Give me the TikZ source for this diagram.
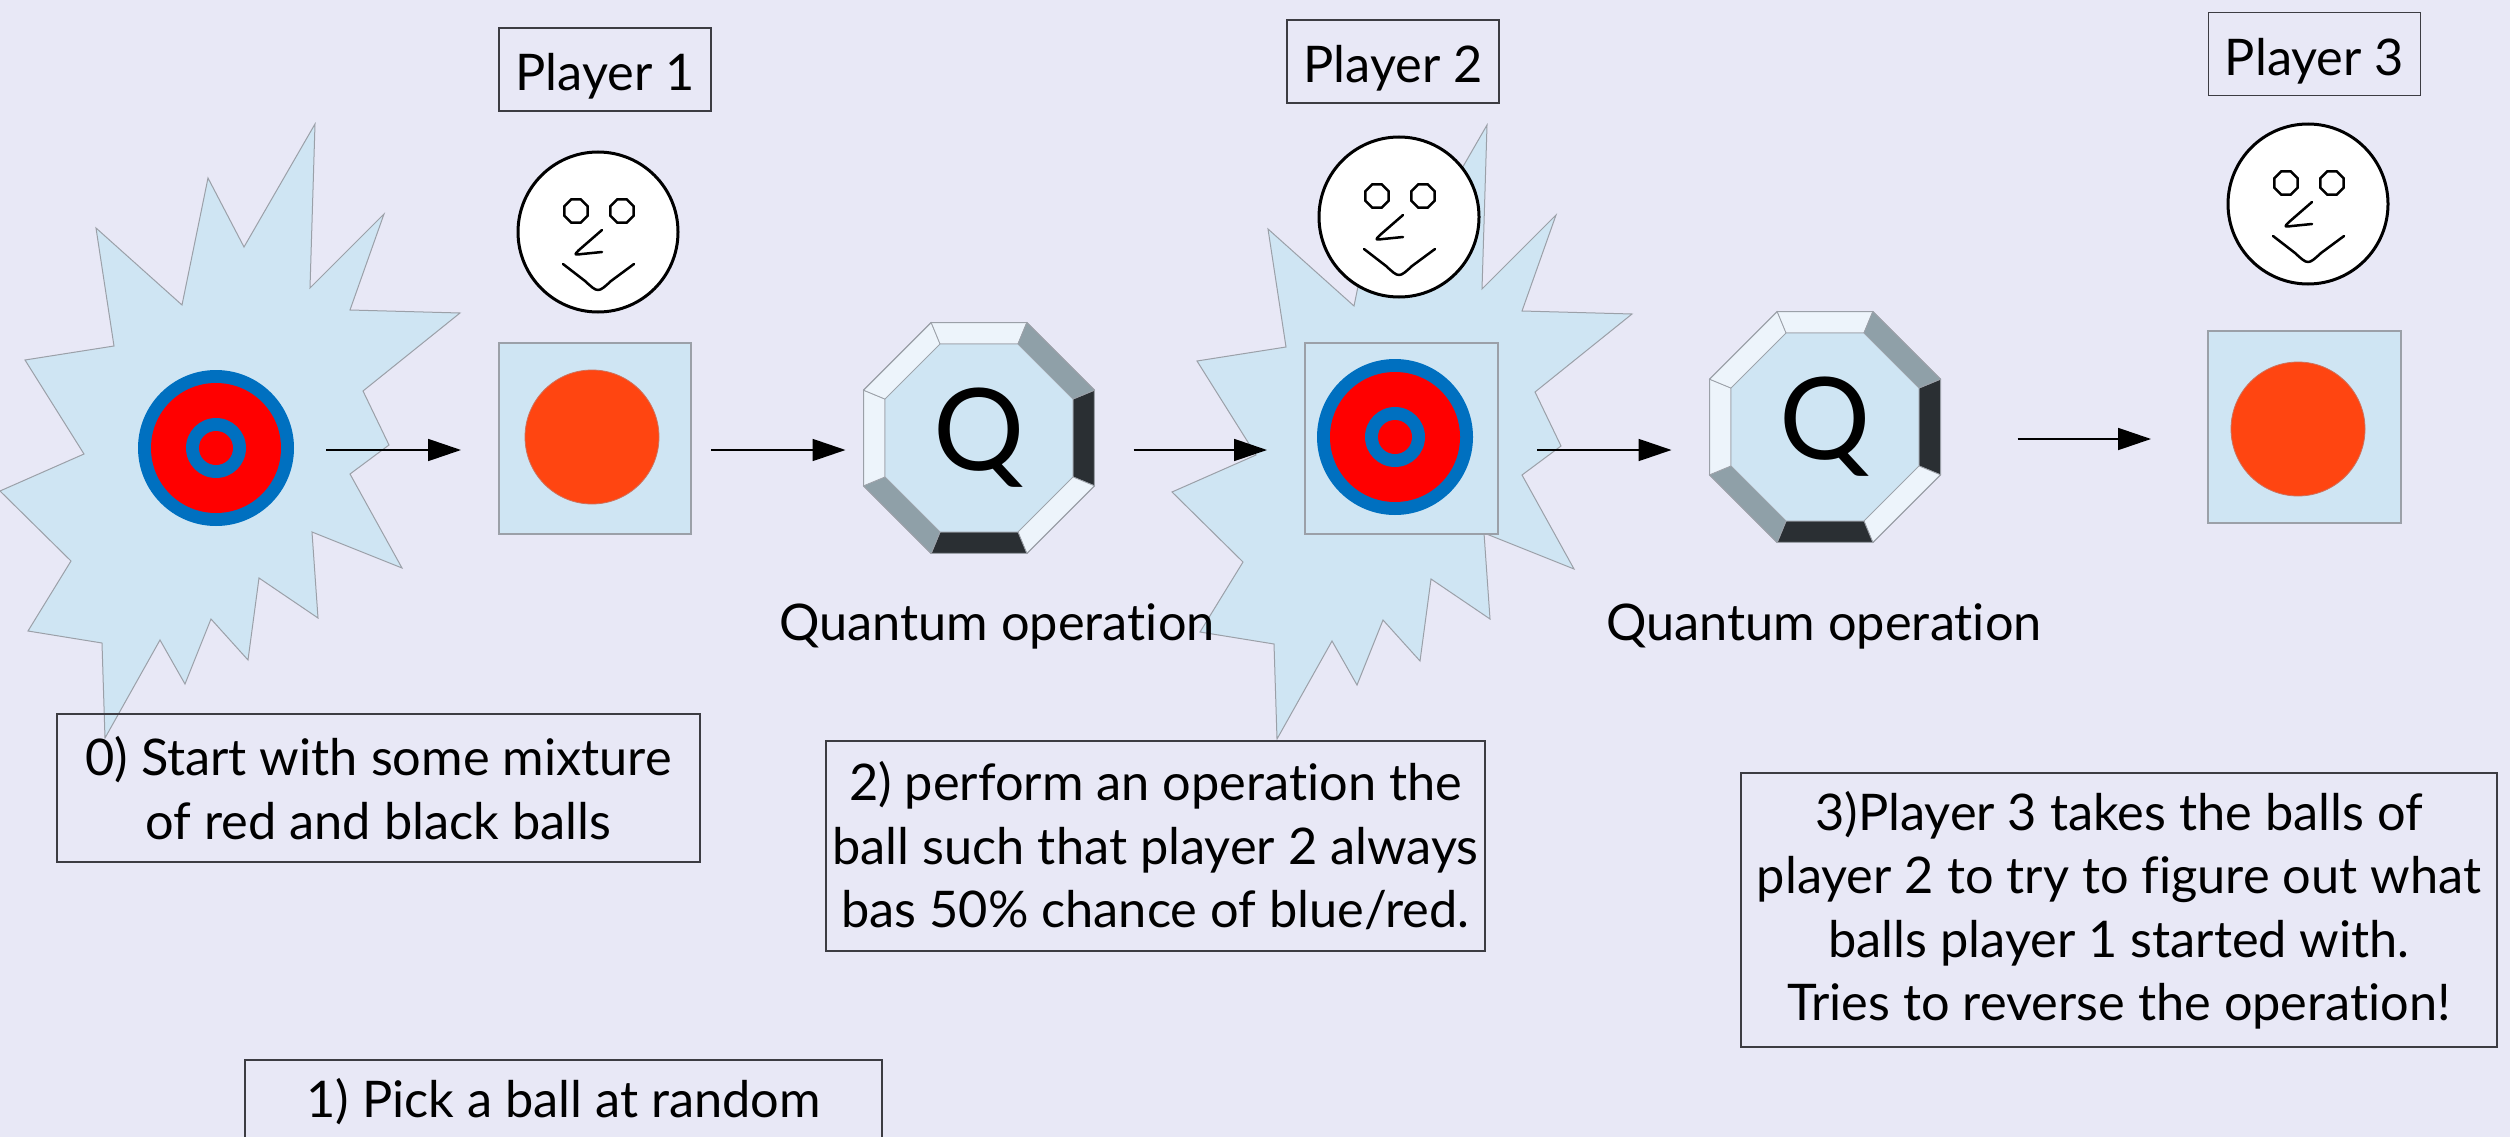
\documentclass[tikz,border=0pt]{standalone}
\usepackage{fontspec}
\setmainfont{Lato}[Ligatures=NoCommon]
\usetikzlibrary{arrows.meta,positioning,shapes.geometric,calc}

\definecolor{slidebg}{RGB}{232,232,246}
\definecolor{paleblue}{RGB}{207,229,243}
\definecolor{ballred}{RGB}{255,69,17}
\definecolor{ringblue}{RGB}{0,112,192}
\definecolor{ringred}{RGB}{255,0,0}
\definecolor{edgegray}{RGB}{155,160,168}
\definecolor{boxline}{RGB}{60,60,66}
\definecolor{bevlight}{RGB}{237,244,251}
\definecolor{bevgray}{RGB}{143,160,168}
\definecolor{bevdark}{RGB}{42,47,51}

\newcommand{\labelfont}{\fontsize{50.5}{63.5}\selectfont}

% face with octagon eyes, bent nose and a smile
\newcommand{\smiley}[2]{%
  \node[head] (#1) at (#2) {};
  \node[eye] (#1-le) at ($(#1)+(-22,-21)$) {};
  \node[eye] (#1-re) at ($(#1)+(24,-21)$) {};
  \draw[feature] ($(#1)+(4,-2)$) -- ($(#1)+(-19,18)$) .. controls ($(#1)+(-24,23)$) .. ($(#1)+(-16,22)$) -- ($(#1)+(4,20)$);
  \draw[feature] ($(#1)+(-35,32)$) -- ($(#1)+(-13,49)$) .. controls ($(#1)+(0,61)$) .. ($(#1)+(13,49)$) -- ($(#1)+(36,32)$);
}

% bevelled octagon with a Q on it
\newcommand{\qgate}[2]{%
  \foreach \a/\c in {0/bevdark,45/bevlight,90/bevdark,135/bevgray,180/bevlight,225/bevlight,270/bevlight,315/bevgray}
    \filldraw[fill=\c, draw=edgegray, line width=0.8pt] ($(#2)+({\a-22.5}:125)$) -- ($(#2)+({\a+22.5}:125)$) -- ($(#2)+({\a+22.5}:101.7)$) -- ($(#2)+({\a-22.5}:101.7)$) -- cycle;
  \node[gateface] (#1-in) at (#2) {};
  \node[gate] (#1) at (#2) {Q};
}

% red ball with blue rings
\newcommand{\mixball}[2]{%
  \node[mixed] (#1) at (#2) {};
  \fill[ringred] (#1) circle (65);
  \fill[ringblue] (#1) circle (30);
  \fill[ringred] (#1) circle (17);
}

\begin{document}
\begin{tikzpicture}[x=1pt, y=-1pt,
note/.style={draw=boxline, line width=1.5pt, align=center, font=\labelfont, inner sep=0pt, outer sep=0pt},
player/.style={draw=boxline, line width=1.5pt, font=\labelfont, minimum width=212pt, inner xsep=0pt, inner ysep=0pt, text height=63pt, text depth=20pt},
tag/.style={font=\labelfont, inner sep=0pt, anchor=base},
tray/.style={draw=edgegray, line width=1.5pt, fill=paleblue, inner sep=0pt, outer sep=0pt},
redball/.style={circle, fill=ballred, draw=edgegray!50!ballred, line width=0.8pt, minimum size=134pt, inner sep=0pt},
mixed/.style={circle, fill=ringblue, minimum size=156pt, inner sep=0pt, outer sep=0pt},
head/.style={circle, draw=black, line width=3pt, fill=white, minimum size=160pt, inner sep=0pt},
eye/.style={regular polygon, regular polygon sides=8, draw=black, line width=2.5pt, minimum size=25pt, inner sep=0pt},
feature/.style={line width=2.5pt, line cap=round, line join=round},
gateface/.style={regular polygon, regular polygon sides=8, fill=paleblue, draw=edgegray, line width=0.8pt, minimum size=203.4pt, inner sep=0pt},
gate/.style={regular polygon, regular polygon sides=8, draw=edgegray, line width=1pt, minimum size=250pt, inner sep=0pt, outer sep=0pt, font=\fontsize{114}{114}\selectfont},
burstfill/.style={fill=paleblue, draw=edgegray, line width=1pt},
arr/.style={-{Triangle[length=33pt,width=22pt]}, line width=1.8pt},
burst/.pic={
  \filldraw[burstfill] (99,-326) -- (94,-162) -- (168,-236) -- (134,-140) -- (244,-137)
    -- (147,-59) -- (173,-5) -- (134,24) -- (186,118) -- (96,82) -- (102,168)
    -- (43,128) -- (32,210) -- (-5,169) -- (-31,234) -- (-56,190) -- (-111,288)
    -- (-114,193) -- (-188,181) -- (-145,111) -- (-216,41) -- (-132,4) -- (-191,-90)
    -- (-102,-104) -- (-120,-222) -- (-34,-145) -- (-8,-272) -- (28,-203) -- cycle;
}
]
\fill[slidebg] (0,0) rectangle (2510,1137);
\useasboundingbox (0,0) rectangle (2510,1137);

% the mixture
\pic at (216,450) {burst};
\mixball{ball1}{216,448}

\pic at (1388,451) {burst};

% player 1
\node[tray, minimum width=192pt, minimum height=191pt] (sq1) at (595,438.5) {};
\node[redball] (rb1) at (592,437) {};
\smiley{face1}{598,232}
\node[player] (p1) at (605,69.5) {Player 1};

\qgate{q1}{979,438}
\qgate{q2}{1825,427}

% player 2
\node[tray, minimum width=193pt, minimum height=191pt] (sq2) at (1401.5,438.5) {};
\mixball{ball2}{1395,437}
\smiley{face2}{1399,217}
\node[player] (p2) at (1393,61.5) {Player 2};

% player 3
\node[tray, minimum width=193pt, minimum height=192pt] (sq3) at (2304.5,427) {};
\node[redball] (rb3) at (2298,429) {};
\smiley{face3}{2308,204}
\node[player] (p3) at (2314.5,54) {Player 3};

\coordinate (lvl) at (0,450);
\coordinate (lvlb) at (0,439);
\draw[arr, shorten <=32pt, shorten >=38pt] (ball1.east |- lvl) -- (sq1.west |- lvl);
\draw[arr, shorten <=20pt, shorten >=18pt] (sq1.east |- lvl) -- (q1.west |- lvl);
\draw[arr, shorten <=39pt, shorten >=38pt] (q1.east |- lvl) -- (sq2.west |- lvl);
\draw[arr, shorten <=39pt, shorten >=38pt] (sq2.east |- lvl) -- (q2.west |- lvl);
\draw[arr, shorten <=77pt, shorten >=57pt] (q2.east |- lvlb) -- (sq3.west |- lvlb);

\node[tag] (qop1) at (997,640) {Quantum operation};
\node[tag] (qop2) at (1824,640) {Quantum operation};

\node[note, minimum width=643pt, minimum height=148pt] (n0) at (378.5,788) {0) Start with some mixture\\of red and black balls};
\node[note, minimum width=637pt, minimum height=84pt] (n1) at (563.5,1102) {1) Pick a ball at random};
\node[note, minimum width=659pt, minimum height=210pt] (n2) at (1155.5,846) {2) perform an operation the\\ball such that player 2 always\\bas 50\% chance of blue/red.};
\node[note, minimum width=756pt, minimum height=274pt] (n3) at (2119,910) {3)Player 3 takes the balls of\\player 2 to try to figure out what\\balls player 1 started with.\\Tries to reverse the operation!};
\end{tikzpicture}
\end{document}
